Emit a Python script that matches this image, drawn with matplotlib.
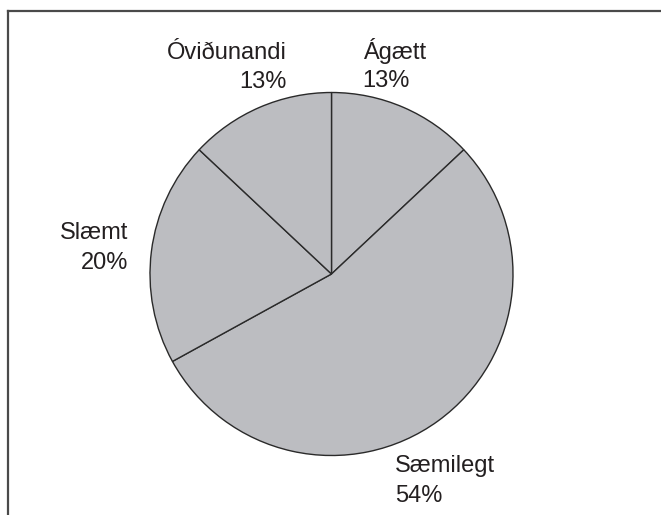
import matplotlib
matplotlib.use("Agg")
import matplotlib.pyplot as plt
from matplotlib.lines import Line2D

categories = ["Ágætt", "Sæmilegt", "Slæmt", "Óviðunandi"]
values = [13, 54, 20, 13]
pct_labels = ["13%", "54%", "20%", "13%"]

W, H = 661, 515
fig = plt.figure(figsize=(W / 100, H / 100), dpi=100)
fig.patch.set_facecolor("white")

cx, cy, r = 331.5, 274.0, 181.5
ax = fig.add_axes([(cx - r) / W, 1 - (cy + r) / H, 2 * r / W, 2 * r / H])
ax.pie(values, startangle=90, counterclock=False, radius=1,
       colors=["#bcbdc1"] * len(values),
       wedgeprops=dict(edgecolor="#2a2a2a", linewidth=1.0))
ax.set_xlim(-1, 1)
ax.set_ylim(-1, 1)
ax.set_aspect("equal")
ax.axis("off")

def dx(px):
    return (px - cx) / r

def dy(py):
    return (cy - py) / r

tc = "#231f20"
fs = 17
font = dict(family=["Liberation Sans", "DejaVu Sans"], fontsize=fs, color=tc)

# (x_px, name_baseline_px, pct_baseline_px, ha)
label_pos = {
    "Ágætt": (362.7, 59, 87, "left"),
    "Sæmilegt": (395, 472, 502, "left"),
    "Slæmt": (128, 239.3, 269, "right"),
    "Óviðunandi": (287, 59, 88, "right"),
}
for cat, pct in zip(categories, pct_labels):
    x, y1, y2, ha = label_pos[cat]
    ax.text(dx(x), dy(y1), cat, ha=ha, va="baseline", clip_on=False, **font)
    ax.text(dx(x), dy(y2), pct, ha=ha, va="baseline", clip_on=False, **font)

# partial frame (top and left edges)
fc = "#4a4a4a"
fig.add_artist(Line2D([8 / W, 1], [1 - 10.5 / H, 1 - 10.5 / H],
                      color=fc, linewidth=1.6, transform=fig.transFigure))
fig.add_artist(Line2D([8 / W, 8 / W], [0, 1 - 10.5 / H],
                      color=fc, linewidth=1.6, transform=fig.transFigure))

fig.savefig("out.png", dpi=100, facecolor="white")
